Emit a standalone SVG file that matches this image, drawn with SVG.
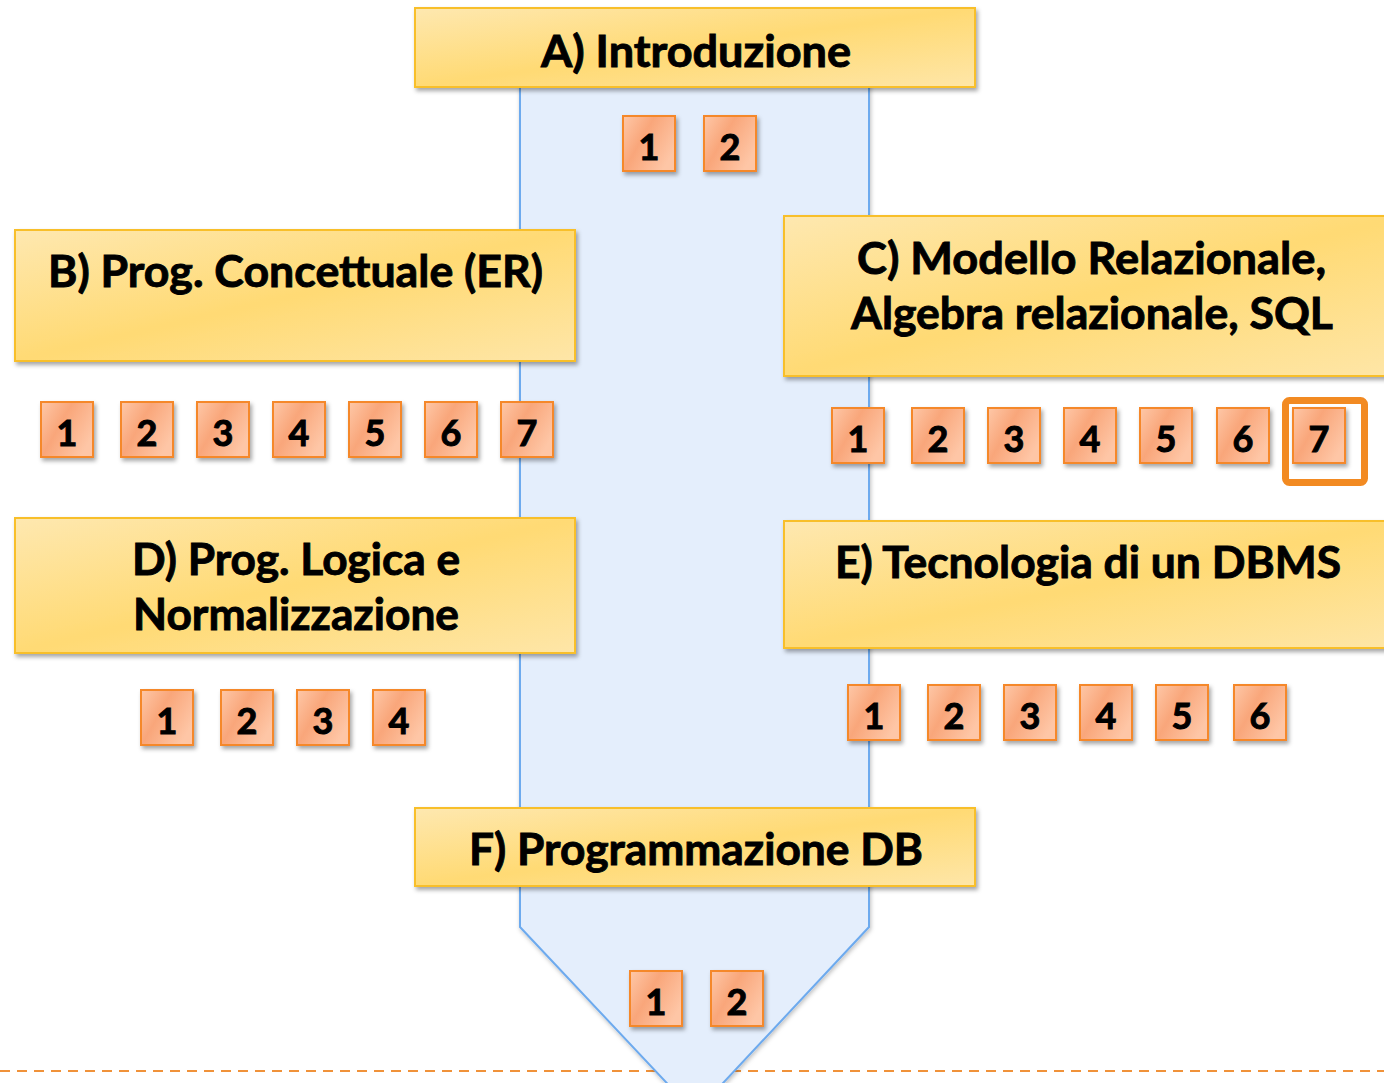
<svg xmlns="http://www.w3.org/2000/svg" width="1384" height="1083" viewBox="0 0 1384 1083">
<defs>
  <linearGradient id="gYellow" x1="0" y1="0" x2="1" y2="1">
    <stop offset="0" stop-color="#FEE8B0"/>
    <stop offset="0.5" stop-color="#FFDA74"/>
    <stop offset="1" stop-color="#FEE6A8"/>
  </linearGradient>
  <linearGradient id="gOrange" x1="0" y1="0" x2="1" y2="0.6">
    <stop offset="0" stop-color="#FEC8A8"/>
    <stop offset="0.45" stop-color="#F9A67A"/>
    <stop offset="1" stop-color="#FEC6A6"/>
  </linearGradient>
  <filter id="shadow" x="-10%" y="-10%" width="130%" height="140%">
    <feDropShadow dx="2" dy="3" stdDeviation="2" flood-color="#000" flood-opacity="0.35"/>
  </filter>
  <filter id="shadowSoft" x="-10%" y="-5%" width="130%" height="120%">
    <feDropShadow dx="1" dy="2" stdDeviation="2" flood-color="#000" flood-opacity="0.25"/>
  </filter>
</defs>
<style>
  .topic rect { fill: url(#gYellow); stroke: #F8BF2C; stroke-width: 2; filter: url(#shadow); }
  .topic text { font-family: Lato, "Open Sans", "Liberation Sans", sans-serif; font-weight: 700; font-size: 44px; fill: #000; stroke: #000; stroke-width: 0.9; text-anchor: middle; }
  .num rect { fill: url(#gOrange); stroke: #F5882A; stroke-width: 2; filter: url(#shadow); }
  .num text { font-family: Lato, "Open Sans", "Liberation Sans", sans-serif; font-weight: 700; font-size: 36px; fill: #000; stroke: #000; stroke-width: 1; text-anchor: middle; }
  .arrow { fill: #E4EEFC; stroke: #6DAAEE; stroke-width: 2; filter: url(#shadowSoft); }
  .dash { stroke: #F0923A; stroke-width: 2; stroke-dasharray: 10 7; fill: none; }
  .hl { fill: none; stroke: #F28A22; stroke-width: 7; }
</style>

<line class="dash" x1="0" y1="1071" x2="1384" y2="1071"/>

<g id="connectors">
  <polygon class="arrow" points="520,60 869,60 869,927 695,1113 520,927"/>
</g>

<g id="topic-A" class="topic">
  <rect x="415" y="8" width="560" height="79"/>
  <text x="696" y="67" textLength="310" lengthAdjust="spacingAndGlyphs">A) Introduzione</text>
</g>
<g id="topic-B" class="topic">
  <rect x="15" y="230" width="560" height="131"/>
  <text x="295.5" y="287" textLength="495" lengthAdjust="spacingAndGlyphs">B) Prog. Concettuale (ER)</text>
</g>
<g id="topic-C" class="topic">
  <rect x="784" y="216" width="620" height="160"/>
  <text x="1091.5" y="274" textLength="469" lengthAdjust="spacingAndGlyphs">C) Modello Relazionale,</text>
  <text x="1092" y="329" textLength="482" lengthAdjust="spacingAndGlyphs">Algebra relazionale, SQL</text>
</g>
<g id="topic-D" class="topic">
  <rect x="15" y="518" width="560" height="135"/>
  <text x="296" y="575" textLength="328" lengthAdjust="spacingAndGlyphs">D) Prog. Logica e</text>
  <text x="296" y="630" textLength="326" lengthAdjust="spacingAndGlyphs">Normalizzazione</text>
</g>
<g id="topic-E" class="topic">
  <rect x="784" y="521" width="620" height="127"/>
  <text x="1088" y="578" textLength="506" lengthAdjust="spacingAndGlyphs">E) Tecnologia di un DBMS</text>
</g>
<g id="topic-F" class="topic">
  <rect x="415" y="808" width="560" height="78"/>
  <text x="696" y="865" textLength="454" lengthAdjust="spacingAndGlyphs">F) Programmazione DB</text>
</g>

<g id="units-A" class="num">
  <g id="A1"><rect x="623" y="116" width="52" height="55"/><text x="649" y="160">1</text></g>
  <g id="A2"><rect x="704" y="116" width="52" height="55"/><text x="730" y="160">2</text></g>
</g>
<g id="units-B" class="num">
  <g id="B1"><rect x="41" y="402" width="52" height="55"/><text x="67" y="446">1</text></g>
  <g id="B2"><rect x="121" y="402" width="52" height="55"/><text x="147" y="446">2</text></g>
  <g id="B3"><rect x="197" y="402" width="52" height="55"/><text x="223" y="446">3</text></g>
  <g id="B4"><rect x="273" y="402" width="52" height="55"/><text x="299" y="446">4</text></g>
  <g id="B5"><rect x="349" y="402" width="52" height="55"/><text x="375" y="446">5</text></g>
  <g id="B6"><rect x="425" y="402" width="52" height="55"/><text x="451" y="446">6</text></g>
  <g id="B7"><rect x="501" y="402" width="52" height="55"/><text x="527" y="446">7</text></g>
</g>
<g id="units-C" class="num">
  <g id="C1"><rect x="832" y="408" width="52" height="55"/><text x="858" y="452">1</text></g>
  <g id="C2"><rect x="912" y="408" width="52" height="55"/><text x="938" y="452">2</text></g>
  <g id="C3"><rect x="988" y="408" width="52" height="55"/><text x="1014" y="452">3</text></g>
  <g id="C4"><rect x="1064" y="408" width="52" height="55"/><text x="1090" y="452">4</text></g>
  <g id="C5"><rect x="1140" y="408" width="52" height="55"/><text x="1166" y="452">5</text></g>
  <g id="C6"><rect x="1217" y="408" width="52" height="55"/><text x="1243" y="452">6</text></g>
  <g id="C7"><rect x="1293" y="408" width="52" height="55"/><text x="1319" y="452">7</text></g>
</g>
<g id="highlight-C7">
  <rect class="hl" x="1285.5" y="400.5" width="79" height="82" rx="4"/>
</g>
<g id="units-D" class="num">
  <g id="D1"><rect x="141" y="690" width="52" height="55"/><text x="167" y="734">1</text></g>
  <g id="D2"><rect x="221" y="690" width="52" height="55"/><text x="247" y="734">2</text></g>
  <g id="D3"><rect x="297" y="690" width="52" height="55"/><text x="323" y="734">3</text></g>
  <g id="D4"><rect x="373" y="690" width="52" height="55"/><text x="399" y="734">4</text></g>
</g>
<g id="units-E" class="num">
  <g id="E1"><rect x="848" y="685" width="52" height="55"/><text x="874" y="729">1</text></g>
  <g id="E2"><rect x="928" y="685" width="52" height="55"/><text x="954" y="729">2</text></g>
  <g id="E3"><rect x="1004" y="685" width="52" height="55"/><text x="1030" y="729">3</text></g>
  <g id="E4"><rect x="1080" y="685" width="52" height="55"/><text x="1106" y="729">4</text></g>
  <g id="E5"><rect x="1156" y="685" width="52" height="55"/><text x="1182" y="729">5</text></g>
  <g id="E6"><rect x="1234" y="685" width="52" height="55"/><text x="1260" y="729">6</text></g>
</g>
<g id="units-F" class="num">
  <g id="F1"><rect x="630" y="971" width="52" height="55"/><text x="656" y="1015">1</text></g>
  <g id="F2"><rect x="711" y="971" width="52" height="55"/><text x="737" y="1015">2</text></g>
</g>
</svg>
